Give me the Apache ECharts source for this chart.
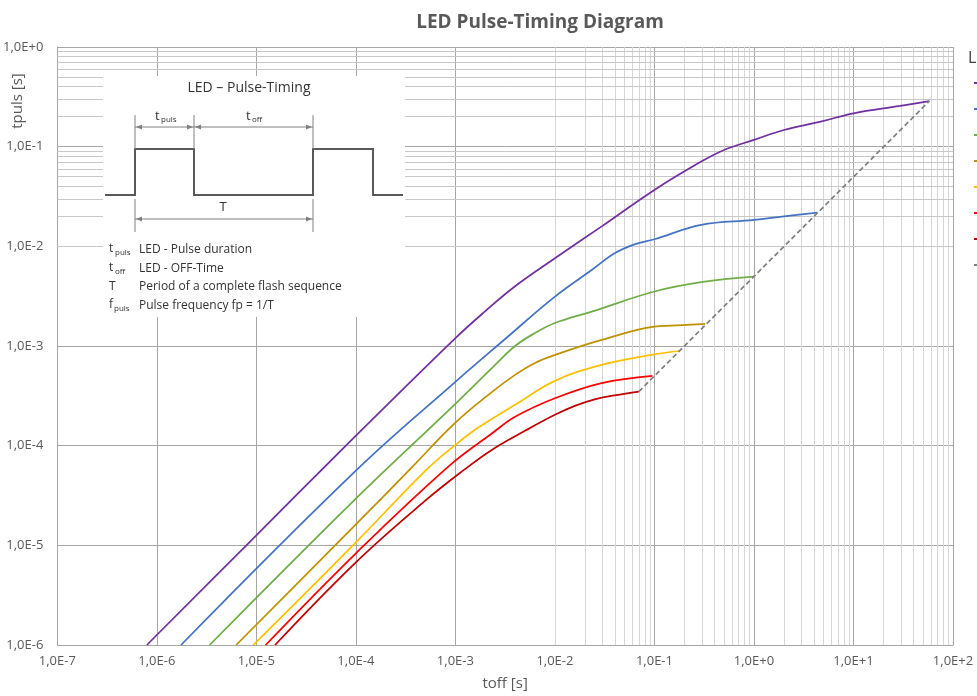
<!DOCTYPE html>
<html>
<head>
<meta charset="utf-8">
<script src="https://cdn.jsdelivr.net/npm/echarts@6/dist/echarts.min.js"></script>
<style>
html,body{margin:0;padding:0;background:#fff;}
#chart{width:977px;height:696px;}
</style>
</head>
<body>
<div id="chart"></div>
<script>
// ---- data: [toff (s), tpuls (s)] ----
const seriesNames = ['LED 1', 'LED 2', 'LED 3', 'LED 4', 'LED 5', 'LED 6', 'LED 7', 'Limit'];
const curvePurple = [
  [7.94e-7, 1e-6], [7.94e-6, 1e-5], [7.94e-5, 1e-4], [1e-3, 1.20e-3], [2.0e-3, 2.24e-3],
  [3.98e-3, 3.98e-3], [1e-2, 7.59e-3], [2.95e-2, 1.585e-2], [0.1, 3.68e-2], [0.295, 7.08e-2],
  [0.501, 9.27e-2], [1, 0.117], [2.0, 0.147], [4.68, 0.178], [10, 0.216], [29.5, 0.256], [57.9, 0.287]
];
const curveBlue = [
  [1.75e-6, 1e-6], [1e-4, 5.62e-5], [1e-3, 4.37e-4], [3.16e-3, 1.175e-3], [1e-2, 3.13e-3],
  [2.34e-2, 5.79e-3], [3.98e-2, 8.51e-3], [6.31e-2, 1.047e-2], [0.1, 1.178e-2],
  [0.295, 1.64e-2], [1, 1.84e-2], [2.0, 2.0e-2], [4.34, 2.18e-2]
];
const curveGreen = [
  [3.39e-6, 1e-6], [1e-4, 2.95e-5], [1e-3, 2.63e-4], [2.51e-3, 6.46e-4], [3.98e-3, 1e-3],
  [6.31e-3, 1.35e-3], [1e-2, 1.70e-3], [2.34e-2, 2.21e-3], [0.1, 3.52e-3], [0.295, 4.37e-3],
  [1, 4.97e-3]
];
const curveGold = [
  [6.27e-6, 1e-6], [1e-4, 1.62e-5], [3.47e-4, 5.75e-5], [1e-3, 1.70e-4], [2.34e-3, 3.47e-4],
  [3.98e-3, 5.13e-4], [6.31e-3, 6.76e-4], [1e-2, 8.13e-4], [2.95e-2, 1.15e-3], [0.1, 1.567e-3],
  [0.148, 1.60e-3], [0.324, 1.667e-3]
];
const curveYellow = [
  [9.33e-6, 1e-6], [1e-4, 1.07e-5], [5.01e-4, 5.62e-5], [1e-3, 1.02e-4], [1.585e-3, 1.45e-4],
  [2.34e-3, 1.86e-4], [3.98e-3, 2.57e-4], [1e-2, 4.47e-4], [2.95e-2, 6.46e-4], [0.1, 8.22e-4],
  [0.178, 8.91e-4]
];
const curveRed = [
  [1.24e-5, 1e-6], [1e-4, 8.32e-6], [8.71e-4, 6.31e-5], [2.34e-3, 1.33e-4], [3.98e-3, 1.95e-4],
  [1e-2, 2.99e-4], [2.95e-2, 4.24e-4], [9.55e-2, 5.01e-4]
];
const curveDarkRed = [
  [1.54e-5, 1e-6], [1e-4, 6.76e-6], [5.01e-4, 2.82e-5], [1.23e-3, 5.75e-5], [2.34e-3, 9.12e-5],
  [5.01e-3, 1.41e-4], [1e-2, 2.04e-4], [1.585e-2, 2.51e-4], [2.51e-2, 2.92e-4], [3.98e-2, 3.20e-4],
  [6.97e-2, 3.49e-4]
];
const limitLine = [[6.97e-2, 3.49e-4], [57.9, 0.287]];

const xMin = 1e-7, xMax = 1e2;
const yMin = 1e-6, yMax = 1;

// ---- styles ----
const colors = ['#7030A0', '#4472C4', '#70AD47', '#BF9000', '#FFC000', '#FF0000', '#C00000', '#808080'];
const FONT = '"Open Sans", "Noto Sans", sans-serif';
const TXT = '#595959';

function sci(v) {
  const e = Math.round(Math.log10(v));
  return '1,0E' + (e >= 0 ? '+' + e : String(e));
}

// minor grid positions (2..9 x 10^n)
const minorX = [], minorY = [];
for (let n = -7; n <= 1; n++) for (let k = 2; k <= 9; k++) minorX.push({ xAxis: k * Math.pow(10, n) });
for (let n = -6; n <= -1; n++) for (let k = 2; k <= 9; k++) minorY.push({ yAxis: k * Math.pow(10, n) });

const curves = [curvePurple, curveBlue, curveGreen, curveGold, curveYellow, curveRed, curveDarkRed];
const series = curves.map((d, i) => ({
  name: seriesNames[i], type: 'line', data: d, symbol: 'none', smooth: 0.4,
  z: 5, lineStyle: { color: colors[i], width: 1.75 }, itemStyle: { color: colors[i] }
}));
series.push({
  name: seriesNames[7], type: 'line', data: limitLine, symbol: 'none', z: 5,
  lineStyle: { color: colors[7], width: 1.75, type: [5, 3] }, itemStyle: { color: colors[7] }
});
series.push({
  name: 'gridMinorX', type: 'line', data: [], z: 1, silent: true,
  markLine: { silent: true, symbol: 'none', label: { show: false }, animation: false,
    lineStyle: { color: '#d6d6d6', width: 1, type: 'solid' }, data: minorX }
});
series.push({
  name: 'gridMinorY', type: 'line', data: [], z: 1, silent: true,
  markLine: { silent: true, symbol: 'none', label: { show: false }, animation: false,
    lineStyle: { color: '#c8c8c8', width: 1, type: 'solid' }, data: minorY }
});

// ---- inset graphic ----
const IC = '#808080';
function arrow(x, y, dir) {
  const s = dir === 'L' ? 1 : -1;
  return { type: 'polygon', z: 101, shape: { points: [[x, y], [x + 6 * s, y - 2.5], [x + 6 * s, y + 2.5]] }, style: { fill: IC } };
}
function ln(x1, y1, x2, y2, c, w) {
  return { type: 'line', z: 101, shape: { x1, y1, x2, y2 }, style: { stroke: c || IC, lineWidth: w || 1 } };
}
function txt(x, y, t, size, align, color) {
  return { type: 'text', z: 102, x, y, style: { text: t, font: size + 'px ' + FONT, fill: color || '#333', align: align || 'left', verticalAlign: 'middle' } };
}
const graphic = [
  { type: 'rect', z: 100, shape: { x: 103, y: 76, width: 302, height: 241 }, style: { fill: '#fff' } },
  txt(249, 88, 'LED – Pulse-Timing', 14, 'center'),
  { type: 'polyline', z: 101, shape: { points: [[105,195],[135,195],[135,149],[194,149],[194,195],[313,195],[313,149],[373,149],[373,195],[403,195]] },
    style: { stroke: '#595959', lineWidth: 2, fill: null } },
  ln(135, 115, 135, 149), ln(194, 115, 194, 149), ln(313, 115, 313, 149),
  ln(135, 127, 313, 127), arrow(136, 127, 'L'), arrow(193, 127, 'R'), arrow(195, 127, 'L'), arrow(312, 127, 'R'),
  ln(135, 199, 135, 232), ln(313, 199, 313, 232),
  ln(135, 219, 313, 219), arrow(136, 219, 'L'), arrow(312, 219, 'R'),
  txt(155, 116, 't', 13), txt(161, 120, 'puls', 8),
  txt(246, 116, 't', 13), txt(252, 120, 'off', 8),
  txt(223, 207, 'T', 13, 'center'),
  txt(109, 249, 't', 12), txt(115, 253, 'puls', 8), txt(139, 250, 'LED - Pulse duration', 12),
  txt(109, 268, 't', 12), txt(115, 272, 'off', 8), txt(139, 269, 'LED - OFF-Time', 12),
  txt(109, 287, 'T', 12), txt(139, 287, 'Period of a complete flash sequence', 12),
  txt(109, 305, 'f', 12), txt(114, 309, 'puls', 8), txt(139, 306, 'Pulse frequency fp = 1/T', 12),
  // y axis name
  { type: 'text', z: 102, x: 18, y: 101, rotation: Math.PI / 2,
    style: { text: 'tpuls [s]', font: '15px ' + FONT, fill: TXT, align: 'center', verticalAlign: 'middle' } },
  // legend title (cut off at the right edge)
  { type: 'text', z: 102, x: 968, y: 58,
    style: { text: 'Legend', font: '16px ' + FONT, fill: '#404040', align: 'left', verticalAlign: 'middle' } }
];

const chart = echarts.init(document.getElementById('chart'), null, { renderer: 'canvas' });
chart.setOption({
  animation: false,
  backgroundColor: '#fff',
  title: { text: 'LED Pulse-Timing Diagram', left: 535, top: 8, textAlign: 'center',
    textStyle: { fontFamily: FONT, fontSize: 19, fontWeight: 'bold', color: TXT } },
  legend: {
    data: seriesNames, orient: 'vertical', left: 973, top: 76, padding: 0,
    itemWidth: 20, itemHeight: 14, itemGap: 12,
    textStyle: { fontFamily: FONT, fontSize: 12, color: '#404040', lineHeight: 14 }
  },
  grid: { left: 53, right: 24, top: 47, bottom: 45, containLabel: false },
  xAxis: {
    type: 'log', logBase: 10, min: xMin, max: xMax, interval: 1,
    name: 'toff [s]', nameLocation: 'middle', nameGap: 31,
    nameTextStyle: { fontFamily: FONT, fontSize: 15, color: TXT },
    axisLine: { show: true, lineStyle: { color: '#a6a6a6' } },
    axisTick: { show: false },
    axisLabel: { formatter: sci, margin: 10, fontFamily: FONT, fontSize: 13, color: TXT },
    splitLine: { show: true, lineStyle: { color: '#a6a6a6', width: 1 } },
    minorTick: { show: false }, minorSplitLine: { show: false }
  },
  yAxis: {
    type: 'log', logBase: 10, min: yMin, max: yMax, interval: 1,
    axisLine: { show: true, lineStyle: { color: '#a6a6a6' } },
    axisTick: { show: false },
    axisLabel: { formatter: sci, margin: 14, fontFamily: FONT, fontSize: 13, color: TXT },
    splitLine: { show: true, lineStyle: { color: '#a6a6a6', width: 1 } },
    minorTick: { show: false }, minorSplitLine: { show: false }
  },
  graphic: graphic,
  series: series
});
</script>
</body>
</html>
